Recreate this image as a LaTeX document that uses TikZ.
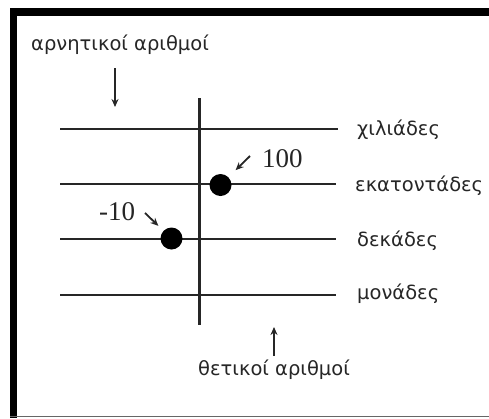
\documentclass[tikz,border=0pt]{standalone}
\usepackage{fontspec}
\setmainfont{DejaVu Sans}
\newfontfamily\numfont{Liberation Serif}
\usetikzlibrary{arrows.meta}
\tikzset{
  rule/.style={line width=2.3pt, color=black!85},
  dot/.style={circle, fill=black, inner sep=0pt, minimum size=22pt},
  lbl/.style={anchor=base west, inner sep=0pt, font=\fontsize{19.5}{22}\selectfont, text=black!85},
  num/.style={anchor=base west, inner sep=0pt, font=\numfont\fontsize{27}{30}\selectfont, text=black!85},
  pointer/.style={line width=1.8pt, -{Stealth[length=8pt,width=7pt]}, color=black!85},
}
\begin{document}
\begin{tikzpicture}[x=1pt,y=-1pt]
\useasboundingbox (0,0) rectangle (489,418);
% frame
\fill[black] (10,8) rectangle (489,16);
\fill[black] (10,8) rectangle (17,418);
\draw[line width=1.5pt, black!60] (10,416.5) -- (489,416.5);
% horizontal rules
\coordinate (h1a) at (60,129); \coordinate (h1b) at (338,129);
\coordinate (h2a) at (60,184); \coordinate (h2b) at (336,184);
\coordinate (h3a) at (60,239); \coordinate (h3b) at (336,239);
\coordinate (h4a) at (60,295); \coordinate (h4b) at (336,295);
\draw[rule] (h1a) -- (h1b);
\draw[rule] (h2a) -- (h2b);
\draw[rule] (h3a) -- (h3b);
\draw[rule] (h4a) -- (h4b);
% vertical axis
\coordinate (vt) at (199.5,98); \coordinate (vb) at (199.5,325);
\draw[rule] (vt) -- (vb);
% labels
\node[lbl] (thou) at (357,135) {χιλιάδες};
\node[lbl] (hund) at (355,191) {εκατοντάδες};
\node[lbl] (tens) at (357,246) {δεκάδες};
\node[lbl] (ones) at (357,299) {μονάδες};
\node[lbl] (neg) at (31,50) {αρνητικοί αριθμοί};
\node[lbl] (pos) at (198,375) {θετικοί αριθμοί};
% arrows for neg / pos
\coordinate (na) at (115,68); \coordinate (nb) at (115,107);
\draw[pointer] (na) -- (nb);
\coordinate (pa) at (274,356); \coordinate (pb) at (274,327);
\draw[pointer] (pa) -- (pb);
% dots
\node[dot] (d100) at (220.5,185) {};
\node[dot] (d10) at (171.5,238.5) {};
% numbers
\node[num] (n100) at (262,167) {100};
\node[num] (n10) at (99,220) {-10};
\coordinate (t100) at (250,156);
\coordinate (t10) at (145,213);
\draw[pointer, shorten >=10pt] (t100) -- (d100);
\draw[pointer, shorten >=7pt] (t10) -- (d10);
\end{tikzpicture}
\end{document}
